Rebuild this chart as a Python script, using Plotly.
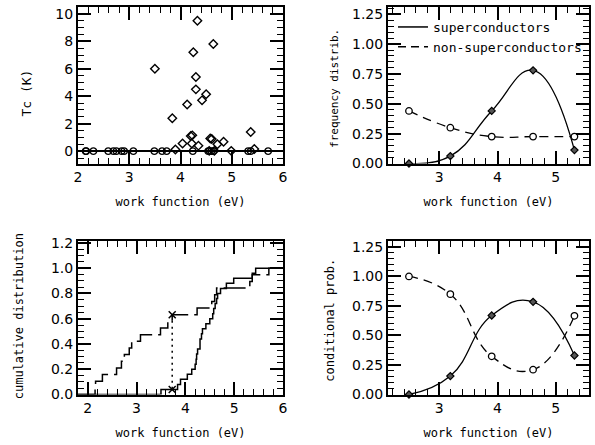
import numpy as np
import plotly.graph_objects as go

# ---------------- data ----------------
# top-left: work function (eV) of non-superconducting elements (Tc = 0)
nonsc_wf = [2.15, 2.16, 2.30, 2.59, 2.69, 2.75, 2.85, 2.90, 3.08, 3.49,
            3.64, 3.73, 4.24, 4.54, 4.60, 4.64, 5.32, 5.37, 5.71]
# superconducting elements: work function (eV) and Tc (K)
sc_wf = [3.50, 3.84, 3.90, 4.04, 4.13, 4.20, 4.23, 4.22, 4.25, 4.30,
         4.30, 4.33, 4.35, 4.42, 4.50, 4.58, 4.61, 4.64, 4.72, 4.84,
         4.99, 4.56, 4.66, 5.37, 5.44]
sc_tc = [6.0, 2.4, 0.12, 0.55, 3.4, 1.1, 1.15, 0.55, 7.2, 5.4,
         4.5, 9.5, 0.4, 3.7, 4.15, 0.92, 0.88, 7.8, 0.5, 0.68,
         0.02, 0.02, 0.02, 1.4, 0.15]
# binned distributions (bin centres in eV)
bin_centers = [2.48, 3.19, 3.90, 4.61, 5.32]
freq_sc = [0.0, 0.062, 0.44, 0.78, 0.112]
freq_nonsc = [0.44, 0.30, 0.225, 0.225, 0.225]
cond_sc = [0.0, 0.156, 0.669, 0.785, 0.33]
cond_nonsc = [1.0, 0.85, 0.323, 0.21, 0.666]

# axis titles
x_title = 'work function (eV)'
y_titles = ['Tc (K)', 'frequency distrib.', 'cumulative distribution', 'conditional prob.']

W, H = 595, 445
def px_x(a, b):
    return [a / W, b / W]
def px_y(top, bottom):
    return [1 - bottom / H, 1 - top / H]

XL = px_x(78, 283)
XR = px_x(388, 589)
YT = px_y(7, 163.5)
YB = px_y(241, 394.5)

DASH = '9px,6px'
fig = go.Figure()
# ---- top-left scatter ----
fig.add_trace(go.Scatter(x=nonsc_wf, y=[0] * len(nonsc_wf), mode='markers',
                         marker=dict(symbol='circle-open', size=6.5, color='black', line=dict(width=1.4)),
                         xaxis='x', yaxis='y', showlegend=False, cliponaxis=False))
fig.add_trace(go.Scatter(x=sc_wf, y=sc_tc, mode='markers',
                         marker=dict(symbol='diamond-open', size=6.5, color='black', line=dict(width=1.4)),
                         xaxis='x', yaxis='y', showlegend=False, cliponaxis=False))
# ---- top-right frequency distributions ----
fig.add_trace(go.Scatter(x=bin_centers, y=freq_sc, mode='lines+markers', showlegend=False,
                         line=dict(color='black', width=1.3, shape='spline', smoothing=1.3),
                         marker=dict(symbol='diamond', size=5.5, color='#555', line=dict(width=1.2, color='black')),
                         xaxis='x2', yaxis='y2', cliponaxis=False))
fig.add_trace(go.Scatter(x=bin_centers, y=freq_nonsc, mode='lines+markers', showlegend=False,
                         line=dict(color='black', width=1.3, shape='spline', smoothing=1.3, dash=DASH),
                         marker=dict(symbol='circle', size=6.5, color='white', line=dict(width=1.3, color='black')),
                         xaxis='x2', yaxis='y2', cliponaxis=False))
fig.add_trace(go.Scatter(x=[None], y=[None], mode='lines', name='superconductors',
                         line=dict(color='black', width=1.5), xaxis='x2', yaxis='y2'))
fig.add_trace(go.Scatter(x=[None], y=[None], mode='lines', name='non-superconductors',
                         line=dict(color='black', width=1.5, dash='8px,5px'), xaxis='x2', yaxis='y2'))

# ---- bottom-left cumulative distributions ----
def ecdf(vals, x0, x1):
    v = sorted(float(a) for a in vals)
    n = len(v)
    xs = [x0] + v + [x1]
    ys = [0.0] + [(i + 1) / n for i in range(n)] + [1.0]
    return xs, ys

xn, yn = ecdf(nonsc_wf, 1.8, 6.0)
xs_, ys_ = ecdf(sc_wf, 1.8, 6.0)
fig.add_trace(go.Scatter(x=xn, y=yn, mode='lines', line=dict(color='black', width=1.5, shape='hv', dash='22px,6px'),
                         xaxis='x3', yaxis='y3', showlegend=False))
fig.add_trace(go.Scatter(x=xs_, y=ys_, mode='lines', line=dict(color='black', width=1.5, shape='hv'),
                         xaxis='x3', yaxis='y3', showlegend=False))

# KS maximum distance between the two cumulative distributions
sn = np.sort(nonsc_wf); ss = np.sort(sc_wf)
grid = np.sort(np.concatenate([sn, ss]))
Fn = np.searchsorted(sn, grid, side='right') / len(sn)
Fs = np.searchsorted(ss, grid, side='right') / len(ss)
k = int(np.argmax(np.abs(Fn - Fs)))
fig.add_trace(go.Scatter(x=[float(grid[k])] * 2, y=[float(Fn[k]), float(Fs[k])], mode='lines+markers',
                         line=dict(color='black', width=1.5, dash='2px,4px'),
                         marker=dict(symbol='x-thin-open', size=7, line=dict(width=1.5, color='black')),
                         xaxis='x3', yaxis='y3', showlegend=False, cliponaxis=False))

# ---- bottom-right conditional probabilities ----
fig.add_trace(go.Scatter(x=bin_centers, y=cond_sc, mode='lines+markers',
                         line=dict(color='black', width=1.3, shape='spline', smoothing=1.3),
                         marker=dict(symbol='diamond', size=5.5, color='#555', line=dict(width=1.2, color='black')),
                         xaxis='x4', yaxis='y4', showlegend=False, cliponaxis=False))
fig.add_trace(go.Scatter(x=bin_centers, y=cond_nonsc, mode='lines+markers',
                         line=dict(color='black', width=1.3, shape='spline', smoothing=1.3, dash=DASH),
                         marker=dict(symbol='circle', size=6.5, color='white', line=dict(width=1.3, color='black')),
                         xaxis='x4', yaxis='y4', showlegend=False, cliponaxis=False))

# empty traces carrying the overlay axes used for the axis titles
for i in range(5, 9):
    fig.add_trace(go.Scatter(x=[None], y=[None], mode='markers', showlegend=False, hoverinfo='skip',
                             xaxis='x%d' % i, yaxis='y%d' % i))

tickfont = dict(family='DejaVu Sans', size=14, color='black')
def ax(domain, rng, dtick, mdtick, anchor, fmt=None, **kw):
    d = dict(domain=domain, range=rng, anchor=anchor, showline=True, linecolor='black', linewidth=2,
             mirror='allticks', ticks='inside', ticklen=13, tickwidth=1.5, tickcolor='black',
             showgrid=False, zeroline=False, tickmode='linear', tick0=0, dtick=dtick, tickfont=tickfont,
             automargin=False,
             minor=dict(ticks='inside', ticklen=6, tickwidth=1.2, tickcolor='black', dtick=mdtick, tick0=0,
                        showgrid=False))
    if fmt:
        d['tickformat'] = fmt
    d.update(kw)
    return d

def title_x(domain, over, anchor, standoff):
    return dict(domain=domain, overlaying=over, anchor=anchor, range=[0, 1], side='bottom',
                tickmode='array', tickvals=[0.5], ticktext=[x_title], ticks='', showline=False,
                showgrid=False, zeroline=False, automargin=False, ticklabelstandoff=standoff,
                tickfont=dict(family='DejaVu Sans Mono', size=12, color='black'))

def title_y(domain, over, anchor, frac, text, size, standoff):
    return dict(domain=domain, overlaying=over, anchor=anchor, range=[0, 1], side='left',
                tickmode='array', tickvals=[frac], ticktext=[text], tickangle=-90, ticks='', showline=False,
                showgrid=False, zeroline=False, automargin=False, ticklabelstandoff=standoff,
                tickfont=dict(family='DejaVu Sans Mono', size=size, color='black'))

fig.update_layout(
    width=W, height=H, margin=dict(l=0, r=0, t=0, b=0, autoexpand=False),
    paper_bgcolor='white', plot_bgcolor='white',
    xaxis=ax(XL, [2, 6], 1, 0.2, 'y'),
    yaxis=ax(YT, [-0.9, 10.5], 2, 0.5, 'x', zeroline=True, zerolinecolor='black', zerolinewidth=1.5),
    xaxis2=ax(XR, [2.12, 5.57], 1, 0.2, 'y2'),
    yaxis2=ax(YT, [0, 1.31], 0.25, 0.05, 'x2', fmt='.2f'),
    xaxis3=ax(XL, [1.8, 6.0], 1, 0.2, 'y3'),
    yaxis3=ax(YB, [0, 1.215], 0.2, 0.05, 'x3', fmt='.1f'),
    xaxis4=ax(XR, [2.12, 5.57], 1, 0.2, 'y4'),
    yaxis4=ax(YB, [0, 1.30], 0.25, 0.05, 'x4', fmt='.2f'),
    xaxis5=title_x(XL, 'x', 'y5', 29),
    yaxis5=title_y(YT, 'y', 'x5', (163.5 - 95) / 156.5, y_titles[0], 13, 43),
    xaxis6=title_x(XR, 'x2', 'y6', 29),
    yaxis6=title_y(YT, 'y2', 'x6', (163.5 - 90) / 156.5, y_titles[1], 11, 47),
    xaxis7=title_x(XL, 'x3', 'y7', 29),
    yaxis7=title_y(YB, 'y3', 'x7', (394.5 - 318) / 153.5, y_titles[2], 12, 52),
    xaxis8=title_x(XR, 'x4', 'y8', 29),
    yaxis8=title_y(YB, 'y4', 'x8', (394.5 - 322) / 153.5, y_titles[3], 12, 51),
    showlegend=True,
    legend=dict(x=393 / W, y=1 - 12 / H, xanchor='left', yanchor='top', bgcolor='rgba(0,0,0,0)',
                font=dict(family='DejaVu Sans Mono', size=13, color='black'), itemwidth=30,
                tracegroupgap=0),
)

fig.write_html('out.html')
